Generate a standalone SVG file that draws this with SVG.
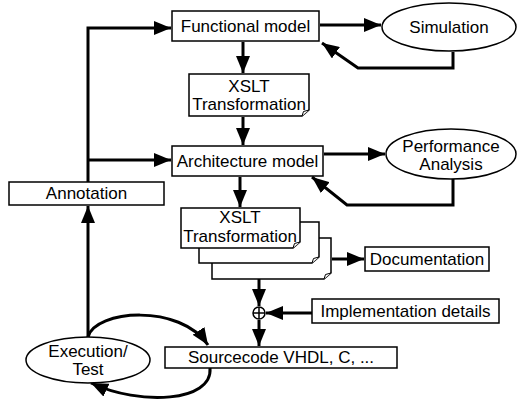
<svg xmlns="http://www.w3.org/2000/svg" width="519" height="403" viewBox="0 0 519 403">
<defs>
<style>
.box{fill:#fff;stroke:#000;stroke-width:1.5}
.page{fill:#fff;stroke:#000;stroke-width:1.5}
.t{font-family:"Liberation Sans",Arial,sans-serif;font-size:17px;fill:#000;text-anchor:middle}
.c{fill:none;stroke:#000;stroke-width:3}
.fold{fill:#fff;stroke:#000;stroke-width:1}
</style>
<marker id="ah" markerUnits="userSpaceOnUse" markerWidth="18" markerHeight="14" refX="17" refY="7" orient="auto">
<path d="M0,0 L17,7 L0,14 z" fill="#000"/>
</marker>
</defs>
<rect width="519" height="403" fill="#fff"/>

<g id="connectors">
<path class="c" d="M88,182 V28 H171" marker-end="url(#ah)"/>
<path class="c" d="M88,160 H171" marker-end="url(#ah)"/>
<path class="c" d="M243,42 V73" marker-end="url(#ah)"/>
<path class="c" d="M243,117 V145" marker-end="url(#ah)"/>
<path class="c" d="M320,25 H381" marker-end="url(#ah)"/>
<path class="c" d="M453,52 V68 H358 L322,43" marker-end="url(#ah)"/>
<path class="c" d="M324,154 H385" marker-end="url(#ah)"/>
<path class="c" d="M453,179 V205 H347 L312,177" marker-end="url(#ah)"/>
<path class="c" d="M240,177 V207" marker-end="url(#ah)"/>
<path class="c" d="M332,259 H364" marker-end="url(#ah)"/>
<path class="c" d="M259,279 V306" marker-end="url(#ah)"/>
<path class="c" d="M312,313 H266" marker-end="url(#ah)"/>
<path class="c" d="M259,320 V346" marker-end="url(#ah)"/>
<path class="c" d="M88,338 V206" marker-end="url(#ah)"/>
<path class="c" d="M88,337 C95,310 180,303 208,345" marker-end="url(#ah)"/>
<path class="c" d="M210,368 C213,402 140,406 91,383" marker-end="url(#ah)"/>
</g>

<g id="functional-model">
<rect class="box" x="172" y="11" width="147" height="30"/>
<text class="t" x="245.5" y="32">Functional model</text>
</g>

<g id="simulation">
<ellipse class="box" cx="449" cy="27" rx="67" ry="24"/>
<text class="t" x="449" y="33">Simulation</text>
</g>

<g id="xslt-1">
<path class="page" d="M189,74 H309 V110 L302,116 H189 Z"/>
<path class="fold" d="M302,116 L303.5,111.5 L309,110"/>
<text class="t" x="249" y="92">XSLT</text>
<text class="t" x="249" y="110">Transformation</text>
</g>

<g id="architecture-model">
<rect class="box" x="172" y="146" width="151" height="30"/>
<text class="t" x="247.5" y="167">Architecture model</text>
</g>

<g id="performance-analysis">
<ellipse class="box" cx="451" cy="154" rx="65" ry="25"/>
<text class="t" x="451" y="152">Performance</text>
<text class="t" x="451" y="170">Analysis</text>
</g>

<g id="annotation">
<rect class="box" x="9" y="182" width="155" height="23"/>
<text class="t" x="86.5" y="199">Annotation</text>
</g>

<g id="xslt-stack">
<path class="page" d="M212,238 H331 V273 L324,279 H212 Z"/>
<path class="fold" d="M324,279 L325.5,274.5 L331,273"/>
<path class="page" d="M199,222 H319 V257 L312,263 H199 Z"/>
<path class="fold" d="M312,263 L313.5,258.5 L319,257"/>
<path class="page" d="M181,208 H300 V242 L293,248 H181 Z"/>
<path class="fold" d="M293,248 L294.5,243.5 L300,242"/>
<text class="t" x="240" y="223">XSLT</text>
<text class="t" x="240" y="242">Transformation</text>
</g>

<g id="documentation">
<rect class="box" x="365" y="247" width="124" height="24"/>
<text class="t" x="427" y="265">Documentation</text>
</g>

<g id="merge">
<circle cx="259" cy="313" r="6" fill="#fff" stroke="#000" stroke-width="1.5"/>
<path d="M253,313 H265 M259,307 V319" stroke="#000" stroke-width="1.5"/>
</g>

<g id="implementation-details">
<rect class="box" x="312" y="299" width="187" height="24"/>
<text class="t" x="405.5" y="317">Implementation details</text>
</g>

<g id="sourcecode">
<rect class="box" x="165" y="347" width="232" height="21"/>
<text class="t" x="281" y="363">Sourcecode VHDL, C, ...</text>
</g>

<g id="execution-test">
<ellipse class="box" cx="88" cy="360" rx="62" ry="23"/>
<text class="t" x="88" y="357">Execution/</text>
<text class="t" x="88" y="375">Test</text>
</g>
</svg>
